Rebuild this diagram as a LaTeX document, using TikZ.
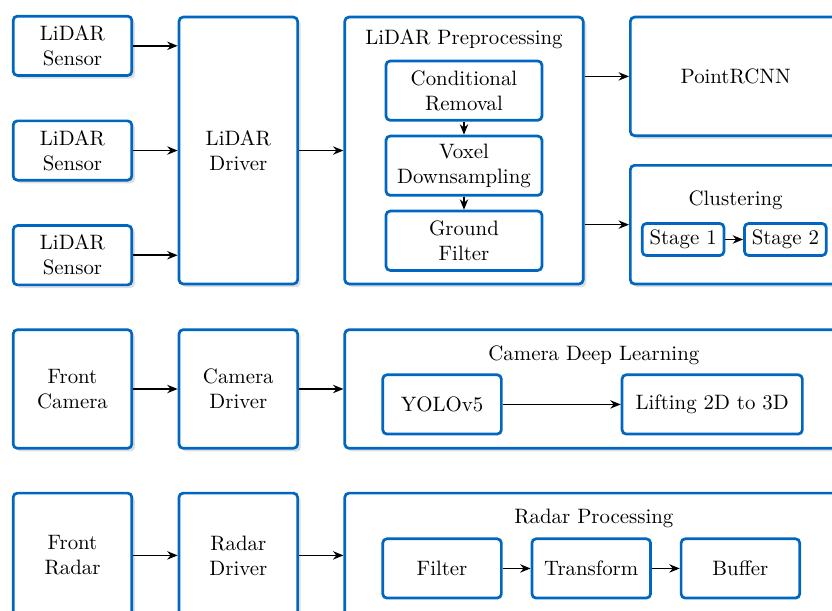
\documentclass[tikz,border=0pt]{standalone}
\usepackage{tikz}
\usetikzlibrary{positioning, arrows.meta, shadows}
\definecolor{boxblue}{RGB}{0,102,191}
\tikzset{
arr/.style={-{Stealth[length=5pt,width=4pt]}, thick},% connectors
block/.style={draw=boxblue, line width=1.3pt, rounded corners=2pt, fill=white, align=center,
  minimum width=2cm, drop shadow={opacity=0.25, shadow xshift=1.5pt, shadow yshift=-1.5pt}},% outer boxes
subbox/.style={draw=boxblue, line width=1.3pt, rounded corners=2pt, fill=white, align=center,
  minimum width=2cm, minimum height=1cm},% boxes inside a stage
stagebox/.style={draw=boxblue, line width=1.3pt, rounded corners=2pt, fill=white, inner xsep=3.5pt,
  inner ysep=2pt, minimum height=0.54cm},
title/.style={inner sep=0pt},
}

\begin{document}
\begin{tikzpicture}
\useasboundingbox (0,0) rectangle (14.03,-10.29);

        % LiDAR row
        \node[block, minimum height=1cm, anchor=north west] (sensor1) at (0.2,-0.25) {LiDAR\\Sensor};
        \node[block, minimum height=1cm, below=0.72cm of sensor1] (sensor2) {LiDAR\\Sensor};
        \node[block, minimum height=1cm, below=0.72cm of sensor2] (sensor3) {LiDAR\\Sensor};
        \node[block, minimum height=4.5cm, right=0.75cm of sensor2] (lidardrv) {LiDAR\\Driver};
        \node[block, minimum width=4.02cm, minimum height=4.5cm, right=0.75cm of lidardrv] (preproc) {};
        \node[title, below=0.22cm of preproc.north] (preproctitle) {LiDAR Preprocessing};
        \node[subbox, minimum width=2.63cm, below=0.74cm of preproc.north] (cond) {Conditional\\Removal};
        \node[subbox, minimum width=2.63cm, below=0.22cm of cond] (voxel) {Voxel\\Downsampling};
        \node[subbox, minimum width=2.63cm, below=0.22cm of voxel] (ground) {Ground\\Filter};
        \node[block, minimum width=3.55cm, minimum height=2cm, right=0.75cm of preproc.north east, anchor=north west] (pointrcnn) {PointRCNN};
        \node[block, minimum width=3.55cm, minimum height=2cm, right=0.75cm of preproc.south east, anchor=south west] (clustering) {};
        \node[title] (clustertitle) at ([yshift=0.41cm]clustering.center) {Clustering};
        \node[stagebox, anchor=west] (stage1) at ([xshift=0.2cm,yshift=-0.25cm]clustering.west) {Stage 1};
        \node[stagebox, right=0.3cm of stage1] (stage2) {Stage 2};

        % camera row
        \node[block, minimum height=2cm, below=0.71cm of sensor3] (camera) {Front\\Camera};
        \node[block, minimum height=2cm, right=0.75cm of camera] (camdrv) {Camera\\Driver};
        \node[block, minimum width=8.4cm, minimum height=2cm, right=0.75cm of camdrv] (camdl) {};
        \node[title, below=0.28cm of camdl.north] (camdltitle) {Camera Deep Learning};
        \node[subbox, anchor=north west] (yolo) at ([xshift=0.64cm,yshift=-0.76cm]camdl.north west) {YOLOv5};
        \node[subbox, minimum width=3.04cm, right=1.99cm of yolo] (lifting) {Lifting 2D to 3D};

        % radar row
        \node[block, minimum height=2.1cm, below=0.71cm of camera] (radar) {Front\\Radar};
        \node[block, minimum height=2.1cm, right=0.75cm of radar] (raddrv) {Radar\\Driver};
        \node[block, minimum width=8.4cm, minimum height=2.1cm, right=0.75cm of raddrv] (radproc) {};
        \node[title, below=0.28cm of radproc.north] (radproctitle) {Radar Processing};
        \node[subbox, anchor=north west] (filter) at ([xshift=0.64cm,yshift=-0.77cm]radproc.north west) {Filter};
        \node[subbox, right=0.47cm of filter] (transform) {Transform};
        \node[subbox, right=0.47cm of transform] (buffer) {Buffer};

        \draw[arr] (sensor1) -- (sensor1 -| lidardrv.west);
        \draw[arr] (sensor2) -- (lidardrv);
        \draw[arr] (sensor3) -- (sensor3 -| lidardrv.west);
        \draw[arr] (lidardrv) -- (preproc);
        \draw[arr] (cond) -- (voxel);
        \draw[arr] (voxel) -- (ground);
        \draw[arr] (preproc.east |- pointrcnn.west) -- (pointrcnn.west);
        \draw[arr] (preproc.east |- clustering.west) -- (clustering.west);
        \draw[arr] (stage1) -- (stage2);
        \draw[arr] (camera) -- (camdrv);
        \draw[arr] (camdrv) -- (camdl);
        \draw[arr] (yolo) -- (lifting);
        \draw[arr] (radar) -- (raddrv);
        \draw[arr] (raddrv) -- (radproc);
        \draw[arr] (filter) -- (transform);
        \draw[arr] (transform) -- (buffer);

  \end{tikzpicture}
\end{document}
